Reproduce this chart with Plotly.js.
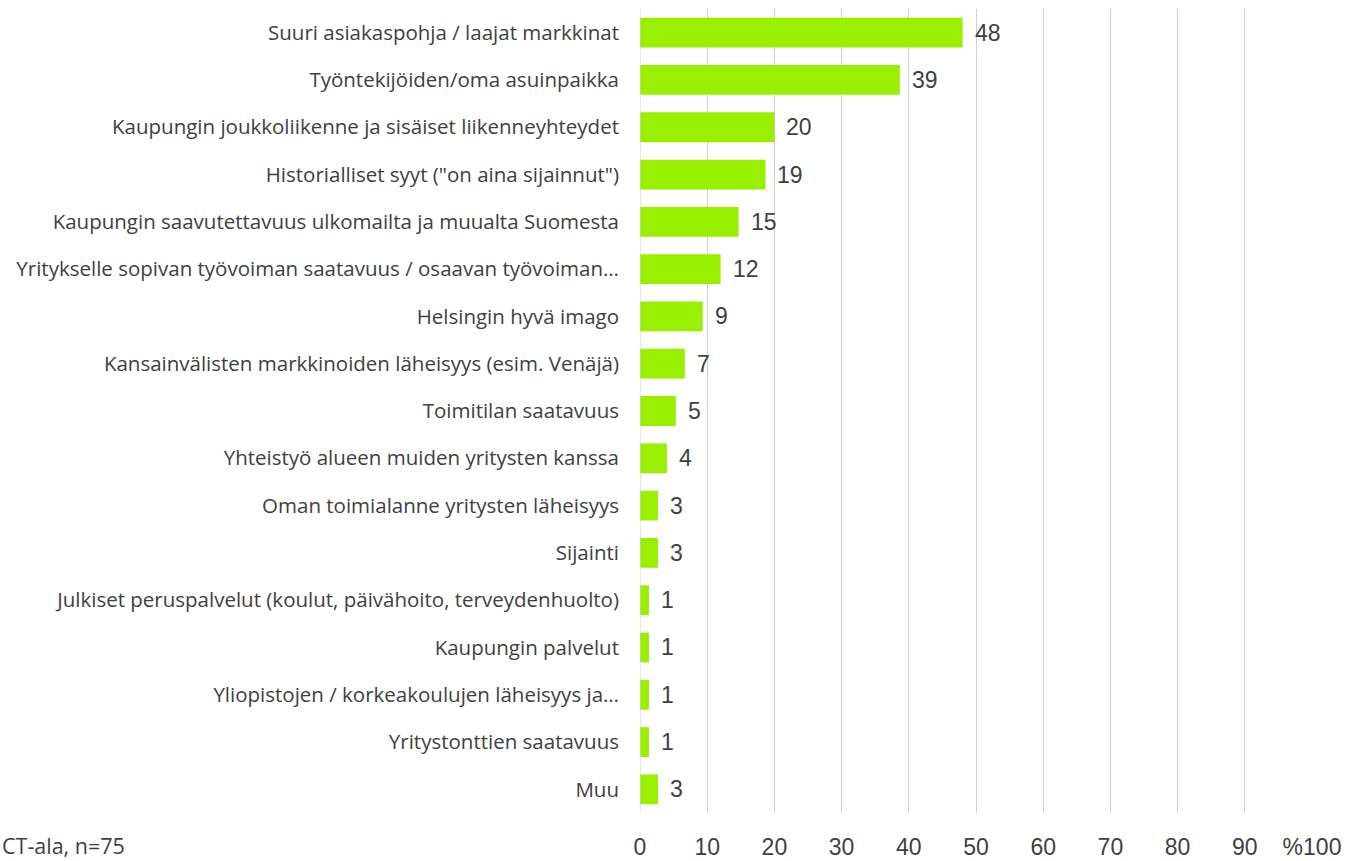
<!DOCTYPE html>
<html>
<head>
<meta charset="utf-8">
<script src="https://cdn.plot.ly/plotly-3.0.1.min.js"></script>
<style>html,body{margin:0;padding:0;background:#fff;}#chart{width:1350px;height:861px;}</style>
</head>
<body>
<div id="chart"></div>
<script>
const categories = [
  "Suuri asiakaspohja / laajat markkinat",
  "Työntekijöiden/oma asuinpaikka",
  "Kaupungin joukkoliikenne ja sisäiset liikenneyhteydet",
  "Historialliset syyt (\"on aina sijainnut\")",
  "Kaupungin saavutettavuus ulkomailta ja muualta Suomesta",
  "Yritykselle sopivan työvoiman saatavuus / osaavan työvoiman…",
  "Helsingin hyvä imago",
  "Kansainvälisten markkinoiden läheisyys (esim. Venäjä)",
  "Toimitilan saatavuus",
  "Yhteistyö alueen muiden yritysten kanssa",
  "Oman toimialanne yritysten läheisyys",
  "Sijainti",
  "Julkiset peruspalvelut (koulut, päivähoito, terveydenhuolto)",
  "Kaupungin palvelut",
  "Yliopistojen / korkeakoulujen läheisyys ja…",
  "Yritystonttien saatavuus",
  "Muu"
];
const values = [48, 38.67, 20, 18.67, 14.67, 12, 9.33, 6.67, 5.33, 4, 2.67, 2.67, 1.33, 1.33, 1.33, 1.33, 2.67];
const tickValues = [0, 10, 20, 30, 40, 50, 60, 70, 80, 90, 100];
const tickLabels = ["0", "10", "20", "30", "40", "50", "60", "70", "80", "90", "%100"];
const noteText = "CT-ala, n=75";

const FONT = "Liberation Sans, Arial, sans-serif";
const LABEL_FONT = "Open Sans, Liberation Sans, sans-serif";
const TXT = "#404040";

const trace = {
  type: "bar",
  orientation: "h",
  x: values,
  y: categories,
  marker: {color: "#99ef00", line: {width: 0}},
  hoverinfo: "x+y"
};

const annotations = values.map((v, i) => ({
  x: v, y: categories[i], xref: "x", yref: "y",
  text: String(Math.round(v)),
  showarrow: false, xanchor: "left", yanchor: "middle",
  xshift: 10,
  font: {family: FONT, size: 23, color: TXT}
}));
annotations.push({
  xref: "paper", yref: "paper",
  x: (0 - 640) / 672, y: -(845 - 812.6) / 803.2,
  xanchor: "left", yanchor: "middle",
  text: noteText, showarrow: false,
  font: {family: LABEL_FONT, size: 21.5, color: TXT}
});

const layout = {
  width: 1350, height: 861,
  margin: {l: 640, r: 38, t: 9.4, b: 48.4},
  paper_bgcolor: "#fff", plot_bgcolor: "#fff",
  showlegend: false,
  bargap: 0.37,
  xaxis: {
    range: [0, 100], tickvals: tickValues, ticktext: tickLabels,
    showgrid: true, gridcolor: "#d0d0d0", gridwidth: 1,
    zeroline: false, showline: false, ticks: "",
    ticklabelstandoff: 18,
    tickfont: {family: FONT, size: 23, color: TXT},
    fixedrange: true
  },
  yaxis: {
    autorange: "reversed", type: "category",
    showgrid: false, zeroline: false, showline: false, ticks: "",
    ticklabelstandoff: 20,
    tickfont: {family: LABEL_FONT, size: 20.5, color: TXT},
    fixedrange: true
  },
  shapes: [{
    type: "line", xref: "x", yref: "paper", x0: 0, x1: 0, y0: 0, y1: 1,
    line: {color: "#d0d0d0", width: 1}
  }],
  annotations: annotations
};

Plotly.newPlot("chart", [trace], layout, {displayModeBar: false, staticPlot: true});
</script>
</body>
</html>
